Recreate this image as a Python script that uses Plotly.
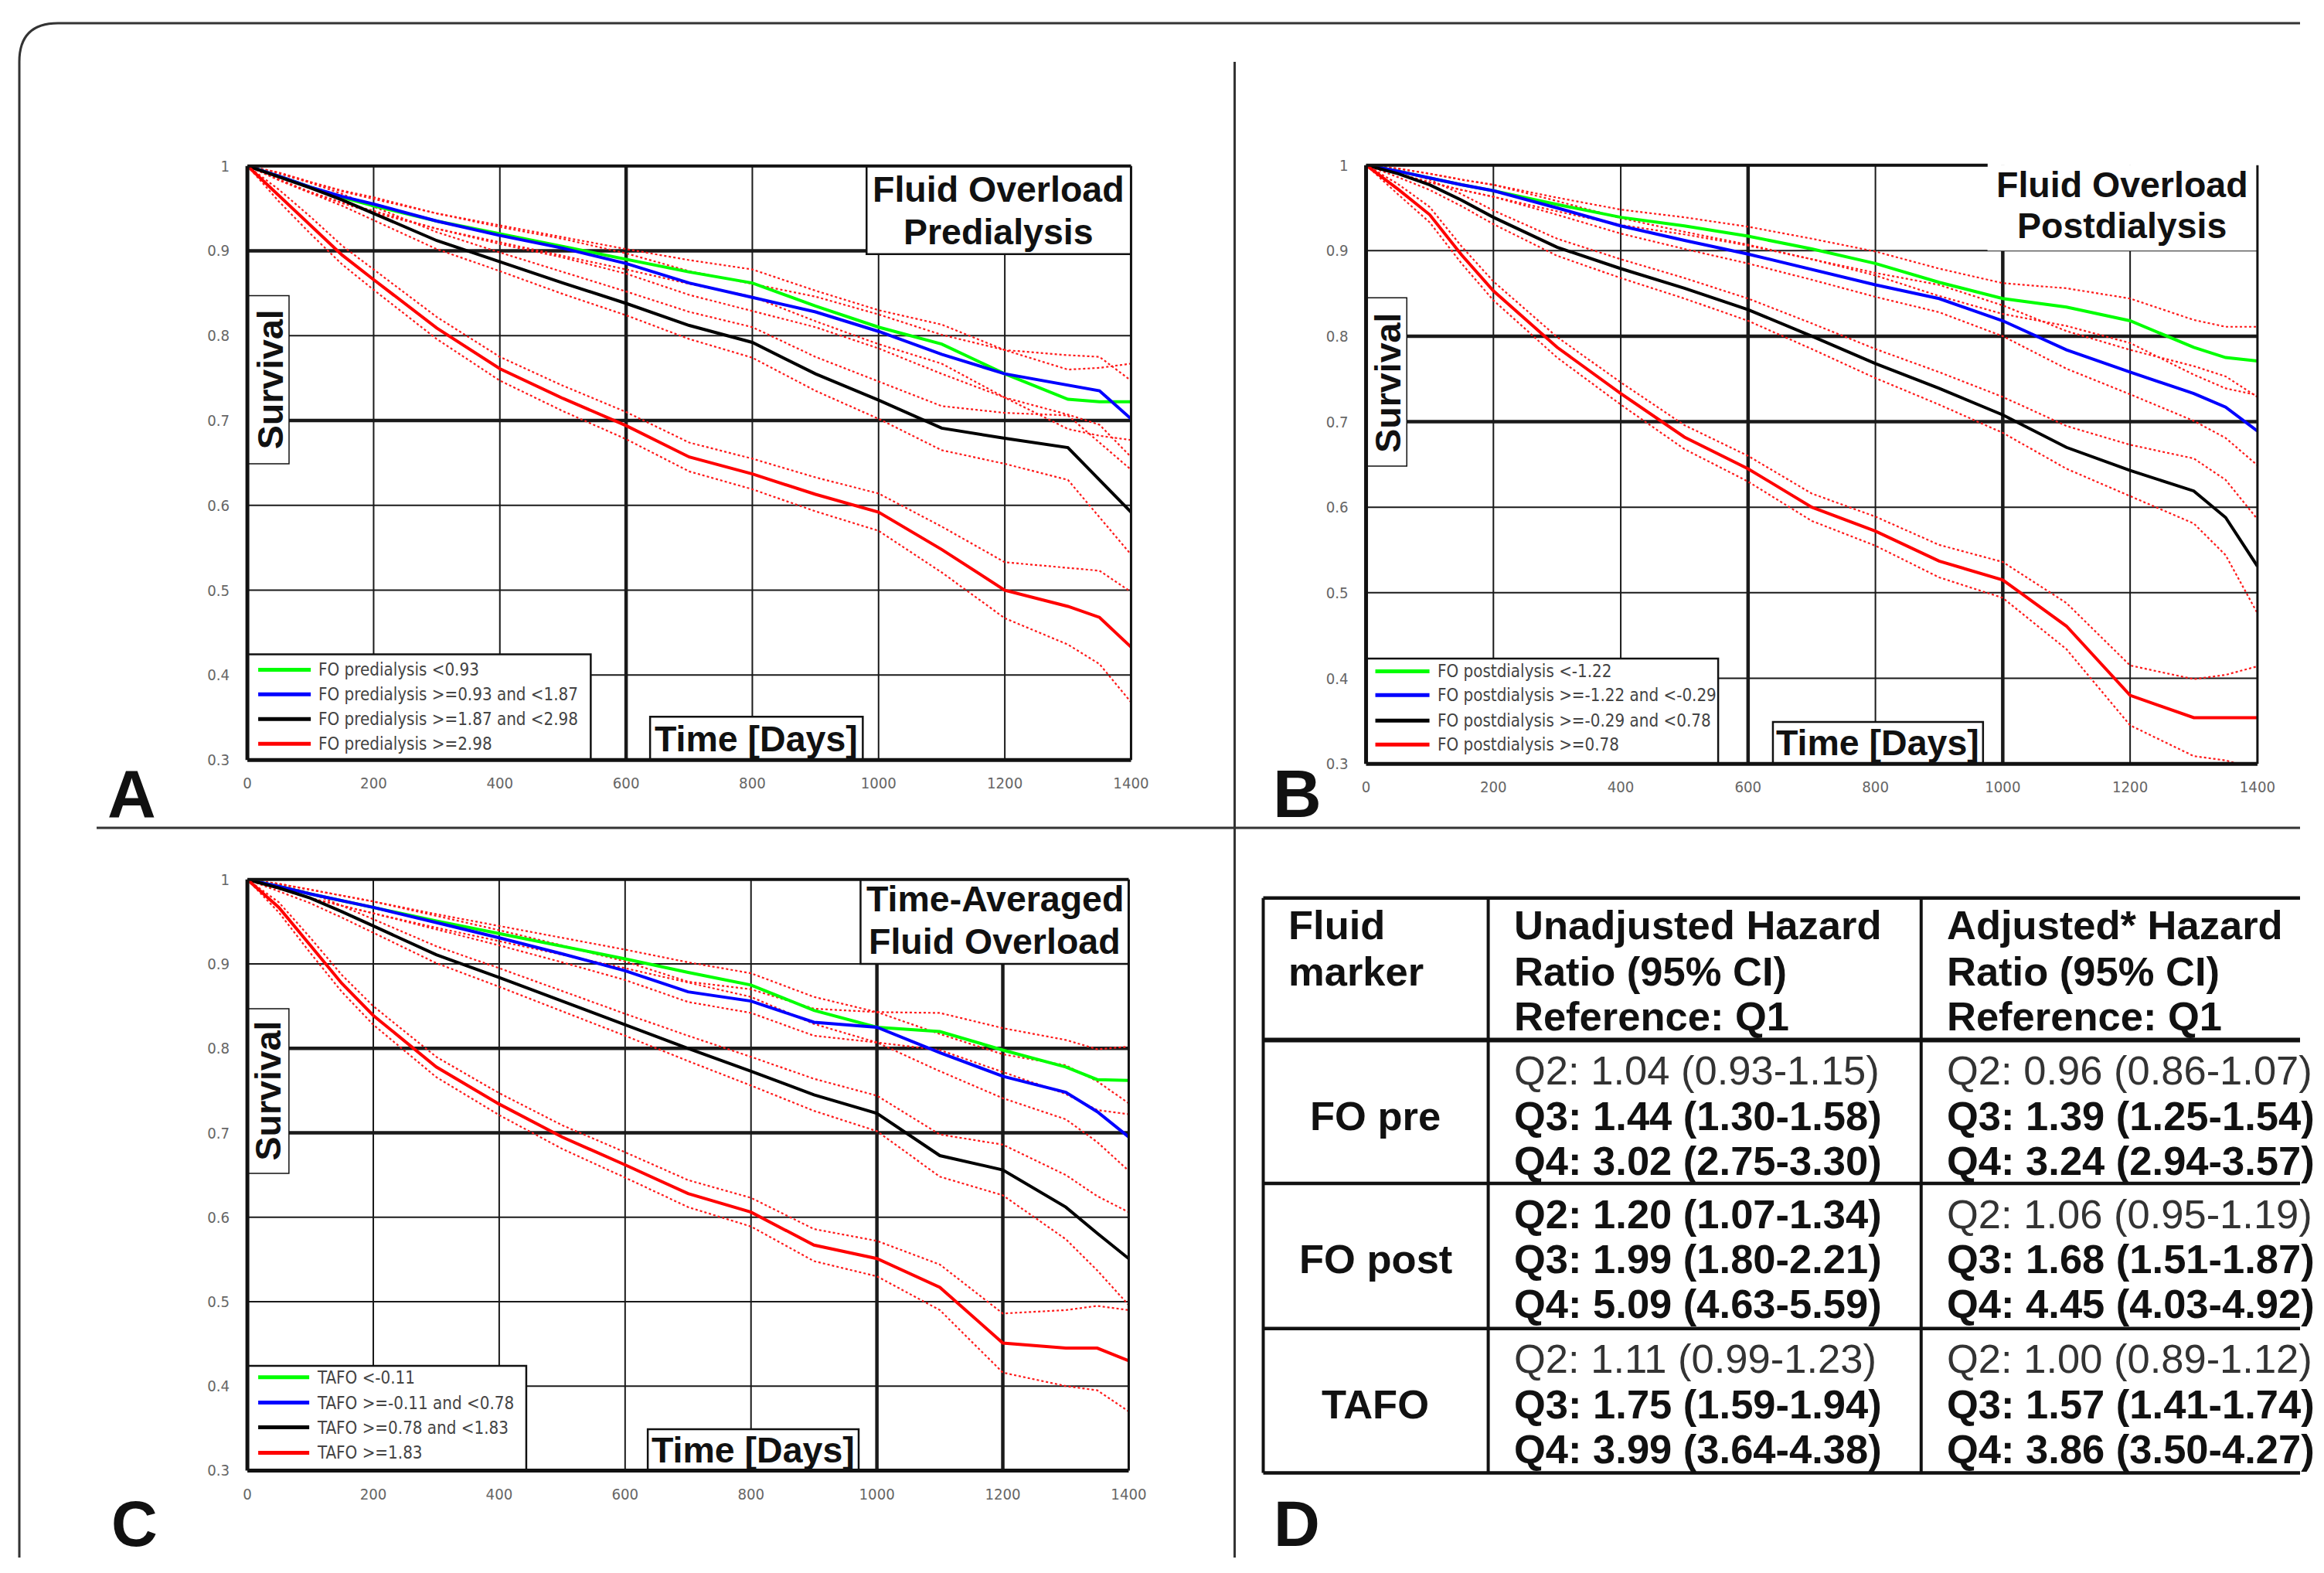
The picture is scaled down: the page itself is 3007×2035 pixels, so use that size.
import plotly.graph_objects as go

# Figure size kept fixed; the captured page maps figure pixel f -> page pixel B + S*f
# (measured with edge markers), so target page coordinates are converted through that map.
W, H = 2991, 2019
S, BX, BY = 0.990, 15.0, 17.0

# ---------------- data ----------------
DAYS = [0, 50, 100, 150, 200, 300, 400, 500, 600, 700, 800, 900, 1000, 1100, 1200, 1300, 1350, 1400]
X_TICKS = [0, 200, 400, 600, 800, 1000, 1200, 1400]
X_TICK_TEXT = ["0", "200", "400", "600", "800", "1000", "1200", "1400"]
Y_TICKS = [0.3, 0.4, 0.5, 0.6, 0.7, 0.8, 0.9, 1.0]
Y_TICK_TEXT = ["0.3", "0.4", "0.5", "0.6", "0.7", "0.8", "0.9", "1"]
X_GRID = [200, 400, 600, 800, 1000, 1200]
Y_GRID = [0.4, 0.5, 0.6, 0.7, 0.8, 0.9]

SERIES_COLORS = ["#00ff00", "#0000ff", "#000000", "#ff0000"]

# Panel A - Fluid overload predialysis
A_NAMES = ["FO predialysis <0.93", "FO predialysis >=0.93 and <1.87",
           "FO predialysis >=1.87 and <2.98", "FO predialysis >=2.98"]
A_G = [1, .988, .975, .963, .953, .935, .920, .905, .890, .875, .862, .835, .810, .790, .755, .725, .722, .722]
A_G_LO = [1, .984, .969, .956, .945, .926, .910, .894, .878, .861, .846, .817, .790, .767, .727, .690, .682, .677]
A_G_HI = [1, .992, .981, .970, .961, .944, .930, .916, .902, .889, .878, .853, .830, .813, .783, .760, .762, .767]
A_B = [1, .988, .975, .964, .955, .935, .918, .903, .885, .862, .845, .828, .805, .778, .755, .742, .735, .702]
A_B_LO = [1, .984, .969, .957, .947, .926, .908, .892, .873, .848, .829, .810, .785, .755, .727, .707, .695, .657]
A_B_HI = [1, .992, .981, .971, .963, .944, .928, .914, .897, .876, .861, .846, .825, .801, .783, .777, .775, .747]
A_K = [1, .987, .974, .960, .944, .912, .887, .862, .838, .812, .792, .755, .724, .691, .679, .668, .630, .592]
A_K_LO = [1, .983, .968, .953, .936, .902, .876, .849, .824, .796, .774, .735, .702, .665, .649, .630, .586, .542]
A_K_HI = [1, .991, .980, .967, .952, .922, .898, .875, .852, .828, .810, .775, .746, .717, .709, .706, .674, .642]
A_R = [1, .965, .930, .895, .866, .809, .761, .726, .694, .657, .637, .613, .592, .548, .500, .481, .468, .433]
A_R_LO = [1, .958, .920, .884, .854, .796, .747, .711, .678, .640, .619, .593, .570, .521, .467, .436, .413, .368]
A_R_HI = [1, .972, .940, .906, .878, .822, .775, .741, .710, .674, .655, .633, .614, .575, .533, .526, .523, .498]

# Panel B - Fluid overload postdialysis
B_NAMES = ["FO postdialysis <-1.22", "FO postdialysis >=-1.22 and <-0.29",
           "FO postdialysis >=-0.29 and <0.78", "FO postdialysis >=0.78"]
B_G = [1, .993, .985, .977, .970, .954, .939, .929, .917, .902, .885, .863, .844, .834, .818, .787, .775, .771]
B_G_LO = [1, .990, .980, .971, .963, .946, .930, .919, .906, .890, .871, .847, .826, .812, .792, .755, .739, .731]
B_G_HI = [1, .996, .990, .983, .977, .962, .948, .939, .928, .914, .899, .879, .862, .856, .844, .819, .811, .811]
B_B = [1, .993, .985, .977, .970, .950, .929, .912, .896, .878, .860, .844, .818, .784, .758, .733, .717, .689]
B_B_LO = [1, .990, .980, .971, .963, .942, .920, .902, .885, .866, .846, .828, .800, .762, .732, .701, .681, .649]
B_B_HI = [1, .996, .990, .983, .977, .958, .938, .922, .907, .890, .874, .860, .836, .806, .784, .765, .753, .729]
B_K = [1, .990, .977, .959, .939, .904, .879, .856, .831, .800, .768, .739, .708, .670, .643, .619, .588, .531]
B_K_LO = [1, .986, .971, .952, .931, .894, .868, .844, .818, .785, .751, .720, .687, .645, .613, .581, .544, .476]
B_K_HI = [1, .994, .983, .966, .947, .914, .890, .868, .844, .815, .785, .758, .729, .695, .673, .657, .632, .586]
B_R = [1, .972, .942, .895, .853, .787, .733, .682, .645, .600, .572, .537, .515, .461, .380, .354, .354, .354]
B_R_LO = [1, .966, .933, .885, .842, .775, .720, .668, .630, .584, .555, .518, .494, .434, .345, .309, .304, .294]
B_R_HI = [1, .978, .951, .905, .864, .799, .746, .696, .660, .616, .589, .556, .536, .488, .415, .399, .404, .414]

# Panel C - Time-averaged fluid overload
C_NAMES = ["TAFO <-0.11", "TAFO >=-0.11 and <0.78", "TAFO >=0.78 and <1.83", "TAFO >=1.83"]
C_G = [1, .992, .983, .975, .967, .951, .936, .921, .906, .890, .875, .845, .825, .820, .798, .778, .763, .762]
C_G_LO = [1, .989, .978, .969, .960, .943, .927, .911, .895, .878, .861, .829, .807, .798, .772, .746, .727, .722]
C_G_HI = [1, .995, .988, .981, .974, .959, .945, .931, .917, .902, .889, .861, .843, .842, .824, .810, .799, .802]
C_B = [1, .992, .983, .975, .967, .949, .931, .912, .892, .867, .856, .831, .825, .795, .767, .748, .725, .695]
C_B_LO = [1, .989, .978, .969, .960, .941, .922, .902, .881, .855, .842, .815, .807, .773, .741, .716, .689, .655]
C_B_HI = [1, .995, .988, .981, .974, .957, .940, .922, .903, .879, .870, .847, .843, .817, .793, .780, .761, .735]
C_K = [1, .990, .978, .962, .945, .911, .884, .856, .828, .800, .773, .745, .723, .673, .656, .612, .581, .551]
C_K_LO = [1, .986, .972, .955, .937, .901, .873, .844, .815, .785, .756, .726, .702, .648, .626, .574, .537, .496]
C_K_HI = [1, .994, .984, .969, .953, .921, .895, .868, .841, .815, .790, .764, .744, .698, .686, .650, .625, .606]
C_R = [1, .967, .922, .877, .839, .778, .734, .695, .662, .628, .606, .567, .551, .517, .451, .445, .445, .430]
C_R_LO = [1, .961, .913, .867, .828, .766, .721, .681, .647, .612, .589, .548, .530, .490, .416, .400, .395, .370]
C_R_HI = [1, .973, .931, .887, .850, .790, .747, .709, .677, .644, .623, .586, .572, .544, .486, .490, .495, .490]

# Panel D - hazard ratio table
TABLE_HEADER = [["Fluid", "marker"],
                ["Unadjusted Hazard", "Ratio (95% CI)", "Reference: Q1"],
                ["Adjusted* Hazard", "Ratio (95% CI)", "Reference: Q1"]]
TABLE_MARKERS = ["FO pre", "FO post", "TAFO"]
TABLE_UNADJ = [["Q2: 1.04 (0.93-1.15)", "Q3: 1.44 (1.30-1.58)", "Q4: 3.02 (2.75-3.30)"],
               ["Q2: 1.20 (1.07-1.34)", "Q3: 1.99 (1.80-2.21)", "Q4: 5.09 (4.63-5.59)"],
               ["Q2: 1.11 (0.99-1.23)", "Q3: 1.75 (1.59-1.94)", "Q4: 3.99 (3.64-4.38)"]]
TABLE_UNADJ_BOLD = [[False, True, True], [True, True, True], [False, True, True]]
TABLE_ADJ = [["Q2: 0.96 (0.86-1.07)", "Q3: 1.39 (1.25-1.54)", "Q4: 3.24 (2.94-3.57)"],
             ["Q2: 1.06 (0.95-1.19)", "Q3: 1.68 (1.51-1.87)", "Q4: 4.45 (4.03-4.92)"],
             ["Q2: 1.00 (0.89-1.12)", "Q3: 1.57 (1.41-1.74)", "Q4: 3.86 (3.50-4.27)"]]
TABLE_ADJ_BOLD = [[False, True, True], [False, True, True], [False, True, True]]

# ---------------- layout helpers ----------------
FONT = "Liberation Sans, Arial, Helvetica, sans-serif"
TICK_FONT = "Liberation Sans Narrow, DejaVu Sans Condensed, Arial Narrow, Liberation Sans, sans-serif"


def X(p):
    """target page pixel -> paper fraction"""
    return ((p - BX) / S) / W


def Y(p):
    return 1 - ((p - BY) / S) / H


def fs(size):
    return round(size / S, 1)


PANELS = [
    dict(px=(321, 1464, 212, 982),
         series=[(A_G, A_G_LO, A_G_HI), (A_B, A_B_LO, A_B_HI), (A_K, A_K_LO, A_K_HI), (A_R, A_R_LO, A_R_HI)],
         names=A_NAMES, title=["Fluid Overload", "Predialysis"], title_x=1293, title_y=[242, 298],
         title_box=(981, 1400, 0.896, 1.0, True), top_line_end=None,
         legend_box=(0, 544, 0.3, 0.4245), legend_rows=[865, 897, 929, 961], legend_x=(335, 403, 411),
         time_box=(638, 975, 0.3, 0.351), time_xy=(979, 955),
         surv_box=(0, 66, 0.649, 0.847), surv_xy=(351, 489),
         thick_y=[0.9, 0.7], thick_x=[600], letter=("A", 171, 1025, 86)),
    dict(px=(1768, 2921, 211, 987),
         series=[(B_G, B_G_LO, B_G_HI), (B_B, B_B_LO, B_B_HI), (B_K, B_K_LO, B_K_HI), (B_R, B_R_LO, B_R_HI)],
         names=B_NAMES, title=["Fluid Overload", "Postdialysis"], title_x=2746, title_y=[236, 290],
         title_box=(976, 1400, 0.9, 1.0, False), top_line_end=2572,
         legend_box=(0, 553, 0.3, 0.423), legend_rows=[867, 898, 931, 962], legend_x=(1780, 1850, 1858),
         time_box=(639, 969, 0.3, 0.349), time_xy=(2430, 960),
         surv_box=(0, 64, 0.648, 0.845), surv_xy=(1797, 493),
         thick_y=[0.8, 0.7], thick_x=[600, 1000], letter=("B", 1679, 1025, 86)),
    dict(px=(321, 1461, 1137, 1903),
         series=[(C_G, C_G_LO, C_G_HI), (C_B, C_B_LO, C_B_HI), (C_K, C_K_LO, C_K_HI), (C_R, C_R_LO, C_R_HI)],
         names=C_NAMES, title=["Time-Averaged", "Fluid Overload"], title_x=1288, title_y=[1162, 1217],
         title_box=(974, 1400, 0.9, 1.0, True), top_line_end=None,
         legend_box=(0, 443, 0.3, 0.424), legend_rows=[1782, 1815, 1847, 1880], legend_x=(335, 401, 409),
         time_box=(636, 971, 0.3, 0.349), time_xy=(975, 1877),
         surv_box=(0, 66, 0.652, 0.847), surv_xy=(348, 1411),
         thick_y=[0.8, 0.7], thick_x=[1000, 1200], letter=("C", 175, 1972, 82)),
]

fig = go.Figure()
shapes = []
annotations = []
layout_axes = {}

for i, P in enumerate(PANELS):
    n = "" if i == 0 else str(i + 1)
    xa, ya = "x" + n, "y" + n
    x0p, x1p, y0p, y1p = P["px"]
    layout_axes["xaxis" + n] = dict(
        domain=[X(x0p), X(x1p)], anchor=ya, range=[0, 1400], tickmode="array",
        tickvals=X_TICKS, ticktext=X_TICK_TEXT, showgrid=False, zeroline=False, showline=False,
        ticks="", ticklabelstandoff=16, tickfont=dict(family=TICK_FONT, size=fs(20), color="#666"),
        fixedrange=True)
    layout_axes["yaxis" + n] = dict(
        domain=[Y(y1p), Y(y0p)], anchor=xa, range=[0.3, 1.0], tickmode="array",
        tickvals=Y_TICKS, ticktext=Y_TICK_TEXT, showgrid=False, zeroline=False, showline=False,
        ticks="", ticklabelstandoff=22, tickfont=dict(family=TICK_FONT, size=fs(20), color="#666"),
        fixedrange=True)

    # grid lines (data coords, drawn under the traces)
    for v in Y_GRID:
        w = 4.5 if v in P["thick_y"] else 2
        shapes.append(dict(type="line", xref=xa, yref=ya, x0=0, x1=1400, y0=v, y1=v,
                           line=dict(color="#1a1a1a", width=w), layer="below"))
    for d in X_GRID:
        w = 4.5 if d in P["thick_x"] else 2
        shapes.append(dict(type="line", xref=xa, yref=ya, x0=d, x1=d, y0=0.3, y1=1.0,
                           line=dict(color="#1a1a1a", width=w), layer="below"))

    # white boxes covering the grid
    tb = P["title_box"]
    shapes.append(dict(type="rect", xref=xa, yref=ya, x0=tb[0], x1=tb[1], y0=tb[2], y1=tb[3],
                       fillcolor="white", line=dict(color="#111", width=2.5 if tb[4] else 0), layer="below"))
    lb = P["legend_box"]
    shapes.append(dict(type="rect", xref=xa, yref=ya, x0=lb[0], x1=lb[1], y0=lb[2], y1=lb[3],
                       fillcolor="white", line=dict(color="#111", width=2.5), layer="below"))
    tm = P["time_box"]
    shapes.append(dict(type="rect", xref=xa, yref=ya, x0=tm[0], x1=tm[1], y0=tm[2], y1=tm[3],
                       fillcolor="white", line=dict(color="#111", width=2.5), layer="below"))
    sb = P["surv_box"]
    shapes.append(dict(type="rect", xref=xa, yref=ya, x0=sb[0], x1=sb[1], y0=sb[2], y1=sb[3],
                       fillcolor="white", line=dict(color="#111", width=1.5), layer="below"))

    # frame
    top_end = P["top_line_end"] if P["top_line_end"] else x1p
    for (ax0, ay0, ax1, ay1, w) in [(x0p, y0p, x0p, y1p, 5), (x0p, y1p, x1p, y1p, 5),
                                    (x0p, y0p, top_end, y0p, 4), (x1p, y0p, x1p, y1p, 3)]:
        shapes.append(dict(type="line", xref="paper", yref="paper", x0=X(ax0), y0=Y(ay0),
                           x1=X(ax1), y1=Y(ay1), line=dict(color="#111", width=w), layer="above"))

    # traces: confidence bands (red dotted) then survival curves
    for (s, lo, hi), name in zip(P["series"], P["names"]):
        for band in (lo, hi):
            fig.add_trace(go.Scatter(x=DAYS, y=band, xaxis=xa, yaxis=ya, mode="lines",
                                     line=dict(color="#ff1a1a", width=2.2, dash="dot"),
                                     showlegend=False, hoverinfo="skip"))
    for (s, lo, hi), name, col in zip(P["series"], P["names"], SERIES_COLORS):
        fig.add_trace(go.Scatter(x=DAYS, y=s, xaxis=xa, yaxis=ya, mode="lines", name=name,
                                 line=dict(color=col, width=4), showlegend=False))

    # legend (manual, MATLAB style)
    lx0, lx1, ltx = P["legend_x"]
    for yrow, name, col in zip(P["legend_rows"], P["names"], SERIES_COLORS):
        shapes.append(dict(type="line", xref="paper", yref="paper", x0=X(lx0), x1=X(lx1),
                           y0=Y(yrow), y1=Y(yrow), line=dict(color=col, width=5), layer="above"))
        annotations.append(dict(x=X(ltx), y=Y(yrow), xref="paper", yref="paper", text=name,
                                showarrow=False, xanchor="left", yanchor="middle",
                                font=dict(family=TICK_FONT, size=fs(22), color="#444")))

    # titles and labels
    for txt, ty in zip(P["title"], P["title_y"]):
        annotations.append(dict(x=X(P["title_x"]), y=Y(ty), xref="paper", yref="paper", text=txt,
                                showarrow=False, xanchor="center", yanchor="middle",
                                font=dict(family=FONT, size=fs(46), color="#111", weight="bold")))
    annotations.append(dict(x=X(P["time_xy"][0]), y=Y(P["time_xy"][1]), xref="paper", yref="paper",
                            text="Time [Days]", showarrow=False, xanchor="center", yanchor="middle",
                            font=dict(family=FONT, size=fs(46), color="#111", weight="bold")))
    annotations.append(dict(x=X(P["surv_xy"][0]), y=Y(P["surv_xy"][1]), xref="paper", yref="paper",
                            text="Survival", textangle=-90, showarrow=False, xanchor="center",
                            yanchor="middle", font=dict(family=FONT, size=fs(46), color="#111", weight="bold")))
    let, lxp, lyp, lsz = P["letter"]
    annotations.append(dict(x=X(lxp), y=Y(lyp), xref="paper", yref="paper", text=let, showarrow=False,
                            xanchor="center", yanchor="middle",
                            font=dict(family=FONT, size=fs(lsz), color="#111", weight="bold")))

# panel D letter
annotations.append(dict(x=X(1678), y=Y(1972), xref="paper", yref="paper", text="D", showarrow=False,
                        xanchor="center", yanchor="middle",
                        font=dict(family=FONT, size=fs(82), color="#111", weight="bold")))

# ---------------- table (panel D) ----------------
T_LEFT, T_C1, T_C2 = 1635, 1926, 2486
T_ROWS = [1161, 1345, 1531, 1719, 1906]
for j, yy in enumerate(T_ROWS):
    w = 6 if j == 1 else 4.5
    shapes.append(dict(type="line", xref="paper", yref="paper", x0=X(T_LEFT), x1=1.0,
                       y0=Y(yy), y1=Y(yy), line=dict(color="#111", width=w), layer="above"))
for xx in (T_LEFT, T_C1, T_C2):
    shapes.append(dict(type="line", xref="paper", yref="paper", x0=X(xx), x1=X(xx),
                       y0=Y(T_ROWS[0]), y1=Y(T_ROWS[-1]), line=dict(color="#111", width=4), layer="above"))

HEADER_Y = [1196, 1256, 1314]
COL_TEXT_X = [1665, 1957, 2517]
for c, lines in enumerate(TABLE_HEADER):
    for k, txt in enumerate(lines):
        annotations.append(dict(x=X(COL_TEXT_X[c]), y=Y(HEADER_Y[k]), xref="paper", yref="paper",
                                text=txt, showarrow=False, xanchor="left", yanchor="middle",
                                font=dict(family=FONT, size=fs(52), color="#111", weight="bold")))
LINE_OFFS = [39, 98, 156]
for r in range(3):
    top = T_ROWS[r + 1]
    annotations.append(dict(x=X(1780), y=Y(top + LINE_OFFS[1]), xref="paper", yref="paper",
                            text=TABLE_MARKERS[r], showarrow=False, xanchor="center", yanchor="middle",
                            font=dict(family=FONT, size=fs(52), color="#111", weight="bold")))
    for k in range(3):
        for col_x, vals, bold in ((COL_TEXT_X[1], TABLE_UNADJ, TABLE_UNADJ_BOLD),
                                  (COL_TEXT_X[2], TABLE_ADJ, TABLE_ADJ_BOLD)):
            annotations.append(dict(x=X(col_x), y=Y(top + LINE_OFFS[k]), xref="paper", yref="paper",
                                    text=vals[r][k], showarrow=False, xanchor="left", yanchor="middle",
                                    font=dict(family=FONT, size=fs(52),
                                              color="#111" if bold[r][k] else "#333",
                                              weight="bold" if bold[r][k] else "normal")))

# ---------------- outer frame & dividers ----------------
border_path = (f"M 1.0,{Y(27)} L {X(76)},{Y(27)} Q {X(26)},{Y(27)} {X(26)},{Y(77)} "
               f"L {X(26)},0")
shapes.append(dict(type="path", xref="paper", yref="paper", path=border_path,
                   line=dict(color="#333", width=3), layer="above"))
shapes.append(dict(type="line", xref="paper", yref="paper", x0=X(1598), x1=X(1598), y0=Y(77), y1=0,
                   line=dict(color="#333", width=3), layer="above"))
shapes.append(dict(type="line", xref="paper", yref="paper", x0=X(126), x1=1.0, y0=Y(1070), y1=Y(1070),
                   line=dict(color="#333", width=3), layer="above"))

fig.update_layout(
    width=W, height=H, autosize=False,
    margin=dict(l=0, r=0, t=0, b=0, pad=0),
    paper_bgcolor="white", plot_bgcolor="white",
    showlegend=False, shapes=shapes, annotations=annotations,
    font=dict(family=FONT),
    **layout_axes,
)

fig.write_html("out.html", config={"displayModeBar": False, "responsive": False})
